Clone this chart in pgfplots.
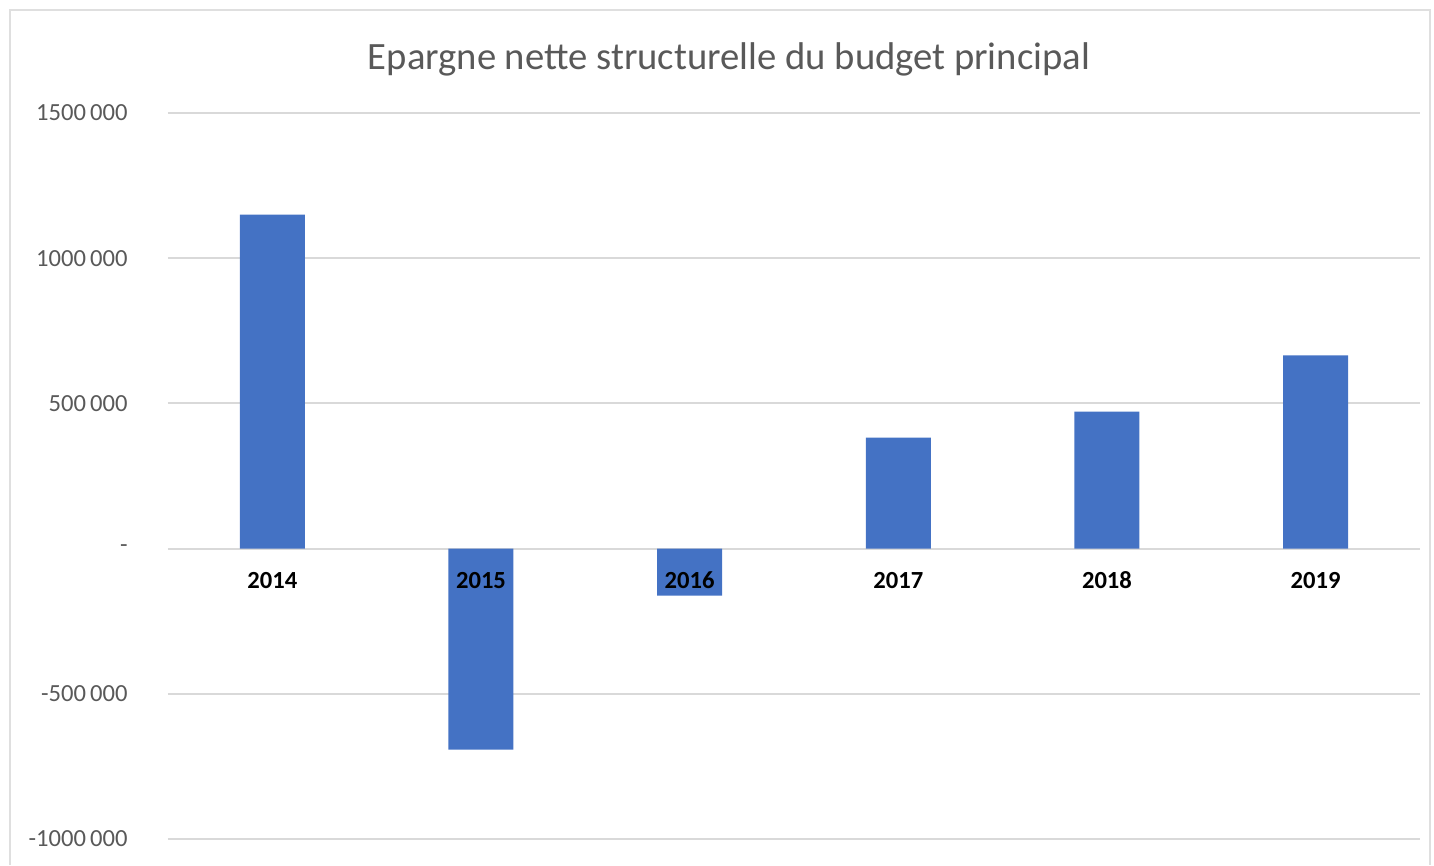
\documentclass[border=0pt]{standalone}
\usepackage{fontspec}
\setmainfont{Carlito}
\usepackage{pgfplots}
\pgfplotsset{compat=1.18}

\definecolor{barblue}{HTML}{4472C4}
\definecolor{txtgray}{HTML}{595959}
\definecolor{gridgray}{HTML}{D9D9D9}

\tikzset{yearlbl/.style={font=\fontsize{7}{8}\selectfont\bfseries, text height=1.8mm, text depth=0.2mm, yshift=-3.2mm}}

\begin{document}
\begin{tikzpicture}
  % page = 1434 x 865 px, 1 px = 0.1 mm
  \path[use as bounding box] (0,0) rectangle (14.34cm,8.65cm);
  \draw[gray!25, line width=0.6pt] (0.1cm,0) -- (0.1cm,8.55cm) -- (14.3cm,8.55cm) -- (14.3cm,0);

  \node[font=\fontsize{11}{13}\selectfont, text=txtgray] at (7.29cm,8.06cm)
    {Epargne nette structurelle du budget principal};

  \begin{axis}[
    at={(1.68cm,0.26cm)}, anchor=south west,
    scale only axis,
    width=12.52cm, height=7.26cm,
    xmin=-0.5, xmax=5.5,
    ymin=-1000000, ymax=1500000,
    scaled y ticks=false,
    axis line style={draw=none},
    major tick style={draw=none},
    xtick=\empty,
    ytick={-1000000,-500000,0,500000,1000000,1500000},
    yticklabels={-1000\,000,-500\,000,-,500\,000,1000\,000,1500\,000},
    yticklabel style={font=\fontsize{7}{8}\selectfont, text=txtgray, xshift=-2.8mm},
    ymajorgrids=true,
    grid style={gridgray, line width=0.6pt},
    clip=false,
  ]
    \addplot[ybar, bar width=6.5mm, fill=barblue, draw=none]
      coordinates {
        (0, 1150000)
        (1, -692000)
        (2, -162000)
        (3, 382000)
        (4, 472000)
        (5, 665000)
      };

    \node[yearlbl] at (axis cs:0,0) {2014};
    \node[yearlbl] at (axis cs:1,0) {2015};
    \node[yearlbl] at (axis cs:2,0) {2016};
    \node[yearlbl] at (axis cs:3,0) {2017};
    \node[yearlbl] at (axis cs:4,0) {2018};
    \node[yearlbl] at (axis cs:5,0) {2019};
  \end{axis}
\end{tikzpicture}
\end{document}
